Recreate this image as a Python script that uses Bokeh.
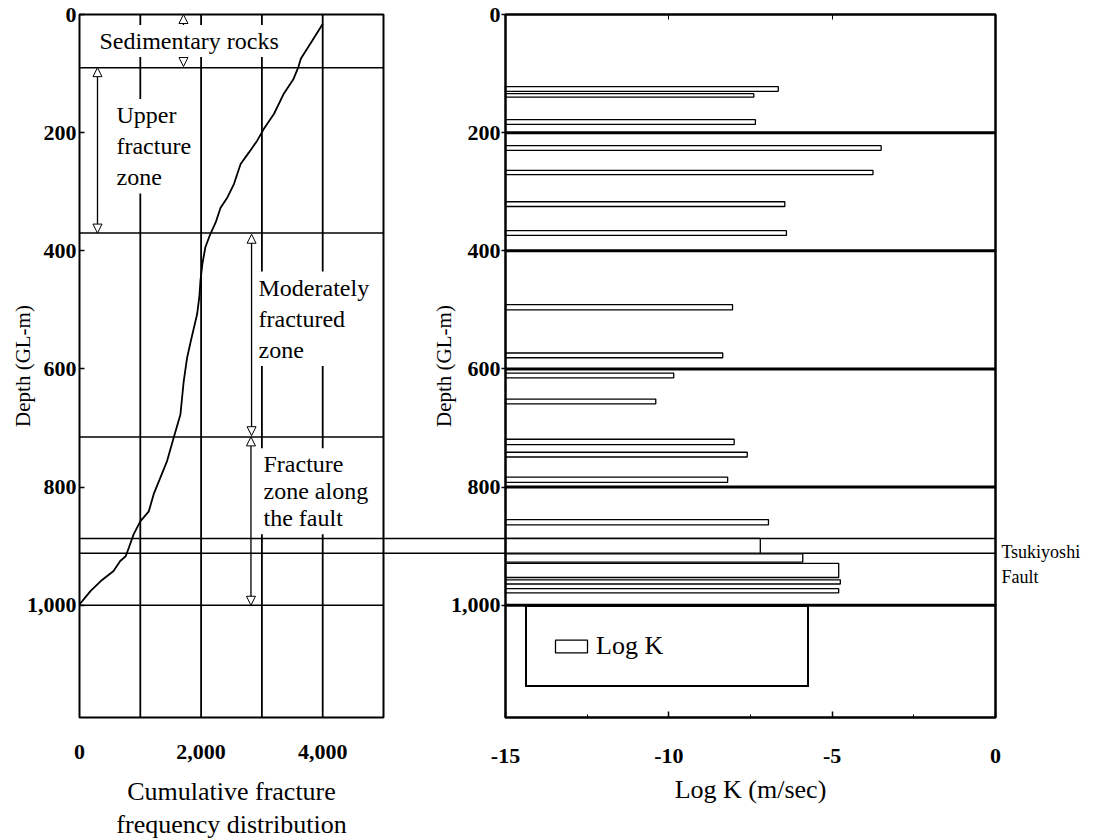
from bokeh.plotting import figure
from bokeh.models import (Range1d, LinearAxis, FixedTicker, Label, Arrow, NormalHead,
                          Legend, LegendItem)
from bokeh.embed import file_html
from bokeh.resources import INLINE

# ---------------- data ----------------
# cumulative fracture frequency curve (left panel)
depth_curve = [16, 44, 75, 89, 109, 134, 168, 194, 214, 233, 253, 287, 310, 327, 352, 372,
               394, 423, 450, 479, 507, 553, 581, 620, 677, 716, 756, 784, 812, 841, 858,
               880, 903, 917, 925, 942, 959, 976, 993, 998]
cum_freq = [4000, 3830, 3640, 3600, 3520, 3360, 3200, 3030, 2920, 2790, 2650, 2540, 2430,
            2320, 2240, 2150, 2070, 2020, 1990, 1970, 1935, 1830, 1770, 1715, 1660, 1550,
            1440, 1330, 1220, 1140, 1000, 890, 810, 760, 670, 560, 350, 180, 45, 0]

# Log K test sections (right panel)
sect_top = [122, 134, 178, 222, 264, 317, 366, 491, 573, 607, 651, 719, 741, 783, 855,
            887, 913, 929, 957, 972]
sect_bottom = [130, 140, 186, 230, 271, 325, 374, 500, 581, 615, 659, 728, 749, 792, 864,
               912, 927, 953, 964, 979]
log_k = [-6.65, -7.4, -7.35, -3.5, -3.75, -6.45, -6.4, -8.05, -8.35, -9.85, -10.4, -8.0,
         -7.6, -8.2, -6.95, -7.2, -5.9, -4.8, -4.75, -4.8]

zone_names = ["Sedimentary rocks", "Upper\nfracture\nzone",
              "Moderately\nfractured\nzone", "Fracture\nzone along\nthe fault"]
zone_top = [0, 90, 370, 715]
zone_bottom = [90, 370, 715, 1000]
fault_depths = [887, 912]
fault_name = "Tsukiyoshi\nFault"

cum_grid = [1000, 2000, 3000, 4000]
depth_grid_right = [200, 400, 600, 800, 1000]

depth_ticks = [0, 200, 400, 600, 800, 1000]
depth_tick_labels = ["0", "200", "400", "600", "800", "1,000"]
cum_ticks = [0, 2000, 4000]
cum_tick_labels = ["0", "2,000", "4,000"]
logk_ticks = [-15, -10, -5, 0]
logk_tick_labels = ["-15", "-10", "-5", "0"]

CUM_LIM = (0, 5000)
LOGK_LIM = (-15, 0)
DEPTH_LIM = (0, 1190)

# ---------------- layout (pixels) ----------------
W, H = 1105, 840
PX_L = (79, 383)
PX_R = (505, 995)
PX_Y = (14, 717)
SERIF = "Liberation Serif"


def x_range_for(lim, px):
    s = (lim[1] - lim[0]) / (px[1] - px[0])
    return Range1d(start=lim[0] - px[0] * s, end=lim[1] + (W - px[1]) * s)


sy = (DEPTH_LIM[1] - DEPTH_LIM[0]) / (PX_Y[1] - PX_Y[0])
yr = Range1d(start=DEPTH_LIM[1] + (H - PX_Y[1]) * sy, end=DEPTH_LIM[0] - PX_Y[0] * sy)
xl = x_range_for(CUM_LIM, PX_L)
xr = x_range_for(LOGK_LIM, PX_R)


def r_to_l(v):
    return xl.start + (v - xr.start) / (xr.end - xr.start) * (xl.end - xl.start)


p = figure(width=W, height=H, x_range=xl, y_range=yr, extra_x_ranges={"r": xr},
           x_axis_type=None, y_axis_type=None, toolbar_location=None,
           output_backend="svg", min_border=0)
p.outline_line_color = None
p.background_fill_color = "white"
p.border_fill_color = "white"

# ---- left panel lines ----
p.segment(x0=cum_grid, x1=cum_grid, y0=[DEPTH_LIM[0]] * len(cum_grid),
          y1=[DEPTH_LIM[1]] * len(cum_grid), line_color="black", line_width=1.8)
zb = sorted(set(zone_bottom))
p.segment(x0=[CUM_LIM[0]] * len(zb), x1=[CUM_LIM[1]] * len(zb), y0=zb, y1=zb,
          line_color="black", line_width=1.5)
p.segment(x0=[CUM_LIM[0]] * len(fault_depths), x1=[r_to_l(LOGK_LIM[1])] * len(fault_depths),
          y0=fault_depths, y1=fault_depths, line_color="black", line_width=1.6)
p.line(cum_freq, depth_curve, line_color="black", line_width=1.8)

# ---- right panel ----
bars = p.quad(left=[LOGK_LIM[0]] * len(log_k), right=log_k, top=sect_top, bottom=sect_bottom,
              x_range_name="r", fill_color="white", line_color="black", line_width=1.3)
p.segment(x0=[LOGK_LIM[0]] * len(depth_grid_right), x1=[LOGK_LIM[1]] * len(depth_grid_right),
          y0=depth_grid_right, y1=depth_grid_right, x_range_name="r",
          line_color="black", line_width=3)

# panel outlines
p.quad(left=[CUM_LIM[0]], right=[CUM_LIM[1]], top=[DEPTH_LIM[0]], bottom=[DEPTH_LIM[1]],
       fill_color=None, line_color="black", line_width=2)
p.quad(left=[LOGK_LIM[0]], right=[LOGK_LIM[1]], top=[DEPTH_LIM[0]], bottom=[DEPTH_LIM[1]],
       x_range_name="r", fill_color=None, line_color="black", line_width=2.5)


# ---- axes ----
def style(ax, tick_size="22px"):
    ax.axis_line_color = None
    ax.major_label_text_font = SERIF
    ax.major_label_text_font_size = tick_size
    ax.major_label_text_font_style = "bold"
    ax.major_label_text_color = "black"
    ax.axis_label_text_font = SERIF
    ax.axis_label_text_font_style = "normal"
    ax.axis_label_text_color = "black"
    ax.major_tick_line_color = "black"
    ax.major_tick_line_width = 1.5


yl = LinearAxis(fixed_location=CUM_LIM[0], bounds=DEPTH_LIM,
                ticker=FixedTicker(ticks=depth_ticks, minor_ticks=[]),
                major_label_overrides=dict(zip(depth_ticks, depth_tick_labels)),
                axis_label="Depth (GL-m)", major_tick_in=5, major_tick_out=0,
                major_label_standoff=3, axis_label_standoff=-11)
style(yl)
yl.axis_label_text_font_size = "21px"
p.add_layout(yl, "left")

yrax = LinearAxis(x_range_name="r", fixed_location=LOGK_LIM[0], bounds=DEPTH_LIM,
                  ticker=FixedTicker(ticks=depth_ticks, minor_ticks=[]),
                  major_label_overrides=dict(zip(depth_ticks, depth_tick_labels)),
                  axis_label="Depth (GL-m)", major_tick_in=0, major_tick_out=4,
                  major_label_standoff=1, axis_label_standoff=-8)
style(yrax)
yrax.axis_label_text_font_size = "21px"
p.add_layout(yrax, "left")

xla = LinearAxis(fixed_location=DEPTH_LIM[1], bounds=CUM_LIM,
                 ticker=FixedTicker(ticks=cum_ticks, minor_ticks=[]),
                 major_label_overrides=dict(zip(cum_ticks, cum_tick_labels)),
                 axis_label="Cumulative fracture\nfrequency distribution",
                 major_tick_in=0, major_tick_out=0, major_label_standoff=27,
                 axis_label_standoff=15)
style(xla)
xla.axis_label_text_font_size = "26px"
xla.axis_label_text_line_height = 1.15
p.add_layout(xla, "below")

xra = LinearAxis(x_range_name="r", fixed_location=DEPTH_LIM[1], bounds=LOGK_LIM,
                 ticker=FixedTicker(ticks=logk_ticks, minor_ticks=[-12.5, -7.5, -2.5]),
                 major_label_overrides=dict(zip(logk_ticks, logk_tick_labels)),
                 axis_label="Log K (m/sec)", major_tick_in=6, major_tick_out=0,
                 minor_tick_in=3, minor_tick_out=0, major_label_standoff=31,
                 axis_label_standoff=9)
style(xra)
xra.minor_tick_line_color = "black"
xra.axis_label_text_font_size = "26px"
p.add_layout(xra, "below")

xtop = LinearAxis(x_range_name="r", fixed_location=DEPTH_LIM[0], bounds=LOGK_LIM,
                  ticker=FixedTicker(ticks=logk_ticks[1:-1], minor_ticks=[]),
                  major_tick_in=5, major_tick_out=0, major_label_text_color=None)
xtop.axis_line_color = None
xtop.major_tick_line_color = "black"
p.add_layout(xtop, "above")

# ---- zone arrows and labels ----
arrow_x = [1710, 296, 2830, 2820]
label_x = [280, 559, 2895, 2977]
label_y = [45, 223, 515, 807]
line_h = [1.2, 1.2, 1.2, 1.04]
arrow_ends = [(0, 88), (90, 370), (372, 713), (715, 1000)]
for ax_, (a0, a1) in zip(arrow_x, arrow_ends):
    p.add_layout(Arrow(x_start=ax_, y_start=a0, x_end=ax_, y_end=a1, line_width=1.3,
                       line_color="black",
                       start=NormalHead(size=9, fill_color="white", line_width=1),
                       end=NormalHead(size=9, fill_color="white", line_width=1)))
for name, lx, ly, lh in zip(zone_names, label_x, label_y, line_h):
    p.add_layout(Label(x=lx, y=ly, text=name, text_font=SERIF, text_font_size="24px",
                       text_color="black", text_align="left", text_baseline="middle",
                       text_line_height=lh, background_fill_color="white", padding=3))

p.add_layout(Label(x=0.18, y=931, x_range_name="r", text=fault_name, text_font=SERIF,
                   text_font_size="18px", text_color="black", text_align="left",
                   text_baseline="middle", text_line_height=1.22))

legend = Legend(items=[LegendItem(label="Log K", renderers=[bars])],
                location=(525, 153), padding=24, spacing=0, margin=0,
                glyph_width=40, glyph_height=16, label_standoff=5,
                label_width=187, label_height=30, label_text_font=SERIF,
                label_text_font_size="26px", label_text_color="black",
                border_line_color="black", border_line_alpha=1,
                border_line_width=2, background_fill_color="white",
                background_fill_alpha=1)
p.add_layout(legend)

open("out.html", "w").write(file_html(p, INLINE))
